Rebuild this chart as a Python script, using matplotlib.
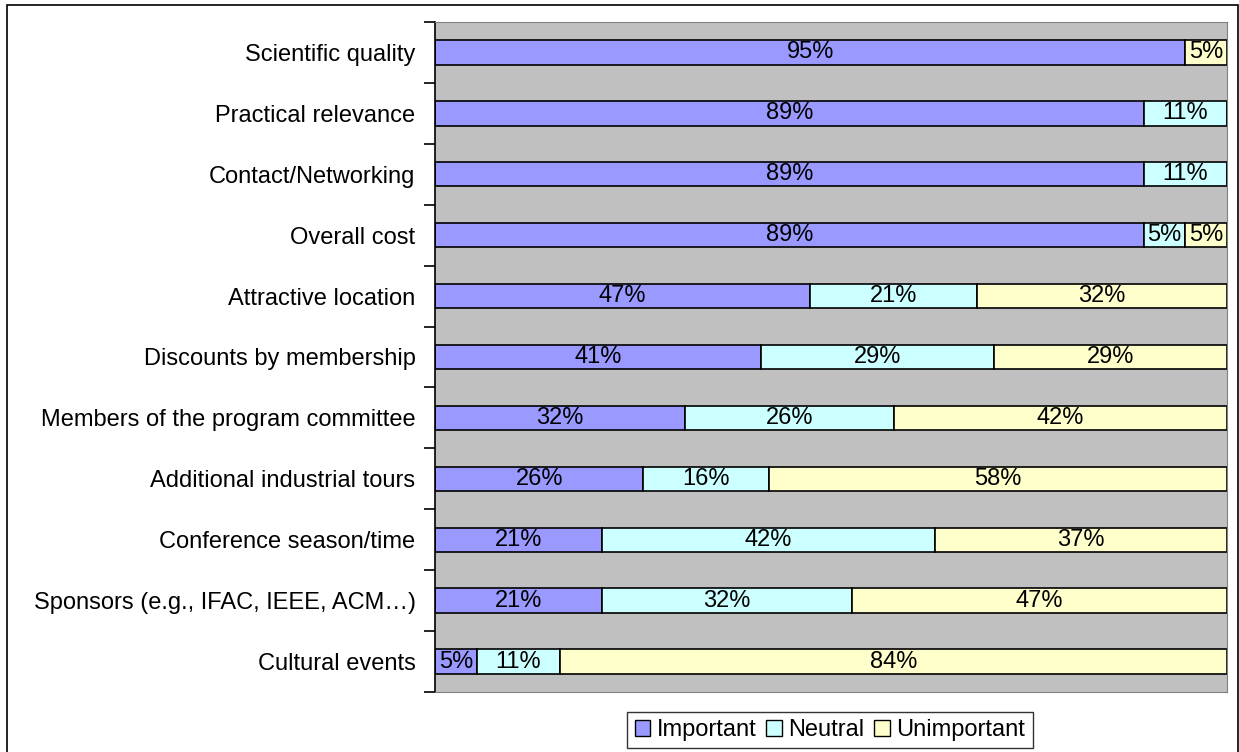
import numpy as np
import matplotlib.pyplot as plt
from matplotlib.patches import Patch, Rectangle

plt.rcParams['font.family'] = ['Liberation Sans', 'DejaVu Sans']

categories = ["Scientific quality", "Practical relevance", "Contact/Networking",
              "Overall cost", "Attractive location", "Discounts by membership",
              "Members of the program committee", "Additional industrial tours",
              "Conference season/time", "Sponsors (e.g., IFAC, IEEE, ACM\u2026)",
              "Cultural events"]
important = [94.74, 89.47, 89.47, 89.47, 47.37, 41.18, 31.58, 26.32, 21.05, 21.05, 5.26]
neutral = [0.0, 10.53, 10.53, 5.26, 21.05, 29.41, 26.32, 15.79, 42.11, 31.58, 10.53]
unimportant = [5.26, 0.0, 0.0, 5.26, 31.58, 29.41, 42.11, 57.89, 36.84, 47.37, 84.21]

series = [("Important", important, "#9999FF"),
          ("Neutral", neutral, "#CCFFFF"),
          ("Unimportant", unimportant, "#FFFFCC")]

FS = 17

fig = plt.figure(figsize=(12.39, 7.52), dpi=100)
ax = fig.add_axes([435/1239, 60/752, 792/1239, 670/752])
ax.set_facecolor("#C0C0C0")

y = np.arange(len(categories))
left = np.zeros(len(categories))
handles = []
for name, vals, col in series:
    vals = np.array(vals)
    bars = ax.barh(y, vals, left=left, height=0.4, color=col,
                   edgecolor="black", linewidth=1.2)
    for b, v in zip(bars, vals):
        if v > 0:
            ax.text(b.get_x() + b.get_width() / 2, b.get_y() + b.get_height() / 2,
                    f"{v:.0f}%", ha="center", va="center", fontsize=FS)
    left += vals
    handles.append(Patch(facecolor=col, edgecolor="black", label=name))

ax.set_xlim(0, 100)
ax.set_ylim(len(categories) - 0.5, -0.5)
ax.set_xticks([])
ax.set_yticks(y)
ax.set_yticklabels(categories, fontsize=FS)
ax.tick_params(axis="y", which="major", length=0, pad=14)
ax.set_yticks(np.arange(-0.5, len(categories), 1), minor=True)
ax.tick_params(axis="y", which="minor", length=8, width=1.2, color="black")

ax.spines["left"].set_color("black")
ax.spines["left"].set_linewidth(1.2)
for s in ["top", "right", "bottom"]:
    ax.spines[s].set_color("#808080")

leg = fig.legend(handles=handles, loc="center", bbox_to_anchor=(830/1239, 22/752),
                 ncol=3, fontsize=FS, frameon=True, fancybox=False,
                 handlelength=0.65, handleheight=0.65, handletextpad=0.3,
                 columnspacing=0.4, borderpad=0.3)
leg.get_frame().set_edgecolor("black")
leg.get_frame().set_linewidth(1.0)

fig.add_artist(Rectangle((7/1239, -0.02), 1231/1239, 1 - 5/752 + 0.02,
                         transform=fig.transFigure, fill=False,
                         edgecolor="black", linewidth=1.2))

fig.savefig("out.png", dpi=100)
